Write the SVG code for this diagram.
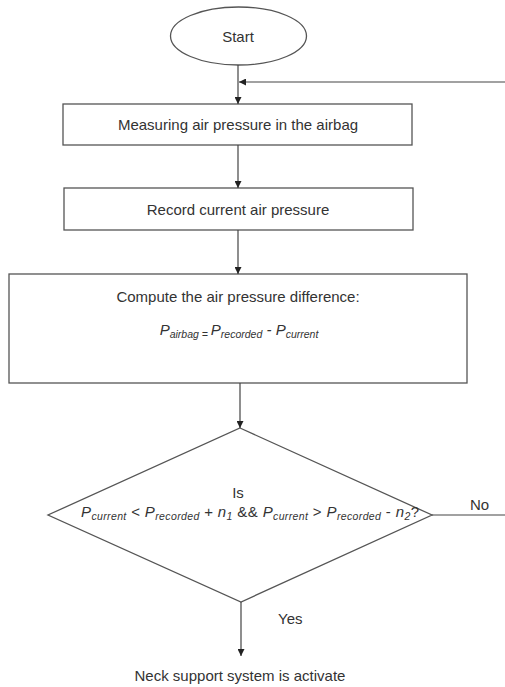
<svg xmlns="http://www.w3.org/2000/svg" width="505" height="687" viewBox="0 0 505 687">
<defs>
<marker id="arr" viewBox="0 0 10 10" refX="10" refY="5" markerWidth="7" markerHeight="7" orient="auto" markerUnits="userSpaceOnUse">
<path d="M0,0 L10,5 L0,10 z" fill="#222"/>
</marker>
</defs>
<style>
.shape{fill:#fff;stroke:#555;stroke-width:1.3}
.conn{fill:none;stroke:#444;stroke-width:1.2}
.t{font-family:"Liberation Sans",Arial,sans-serif;font-size:15px;fill:#333}
.m{font-family:"Liberation Sans",Arial,sans-serif;font-size:15px;fill:#333;font-style:italic}
.s{font-size:10.5px}
</style>
<rect width="505" height="687" fill="#fff"/>
<g id="start">
<ellipse class="shape" cx="238.5" cy="36" rx="68" ry="29"/>
<text class="t" x="238" y="42" text-anchor="middle">Start</text>
</g>
<g id="measure">
<rect class="shape" x="63" y="104" width="349" height="41"/>
<text class="t" x="238" y="130" text-anchor="middle">Measuring air pressure in the airbag</text>
</g>
<g id="record">
<rect class="shape" x="64" y="188" width="349" height="42"/>
<text class="t" x="238" y="215" text-anchor="middle">Record current air pressure</text>
</g>
<g id="compute">
<rect class="shape" x="9" y="274" width="458" height="109"/>
<text class="t" x="238" y="302" text-anchor="middle">Compute the air pressure difference:</text>
<text class="m" x="239" y="335" text-anchor="middle">P<tspan class="s" dy="2.5">airbag </tspan><tspan class="s">= </tspan><tspan dy="-2.5">P</tspan><tspan class="s" dy="2.5">recorded</tspan><tspan dy="-2.5"> - P</tspan><tspan class="s" dy="2.5">current</tspan></text>
</g>
<g id="decision">
<polygon class="shape" points="240,428 432,515 241,602 48,515"/>
<text class="t" x="238" y="498" text-anchor="middle">Is</text>
<text class="m" x="81" y="517" textLength="338" lengthAdjust="spacing">P<tspan class="s" dy="2.5">current</tspan><tspan dy="-2.5" font-style="normal"> &lt; </tspan>P<tspan class="s" dy="2.5">recorded</tspan><tspan dy="-2.5" font-style="normal"> + </tspan>n<tspan class="s" dy="2.5">1</tspan><tspan dy="-2.5" font-style="normal"> &amp;&amp; </tspan>P<tspan class="s" dy="2.5">current</tspan><tspan dy="-2.5" font-style="normal"> &gt; </tspan>P<tspan class="s" dy="2.5">recorded</tspan><tspan dy="-2.5" font-style="normal"> - </tspan>n<tspan class="s" dy="2.5">2</tspan><tspan dy="-2.5" font-style="normal">?</tspan></text>
</g>
<g id="end">
<text class="t" x="240" y="681" text-anchor="middle">Neck support system is activate</text>
</g>
<g id="connectors">
<line class="conn" x1="238" y1="65" x2="238" y2="104" marker-end="url(#arr)"/>
<line class="conn" x1="505" y1="82" x2="239" y2="82" marker-end="url(#arr)"/>
<line class="conn" x1="238" y1="145" x2="238" y2="188" marker-end="url(#arr)"/>
<line class="conn" x1="238" y1="230" x2="238" y2="274" marker-end="url(#arr)"/>
<line class="conn" x1="240" y1="383" x2="240" y2="428" marker-end="url(#arr)"/>
<line class="conn" x1="432" y1="515" x2="505" y2="515"/>
<line class="conn" x1="241" y1="602" x2="241" y2="656" marker-end="url(#arr)"/>
<text class="t" x="470" y="510">No</text>
<text class="t" x="278" y="624">Yes</text>
</g>
</svg>
